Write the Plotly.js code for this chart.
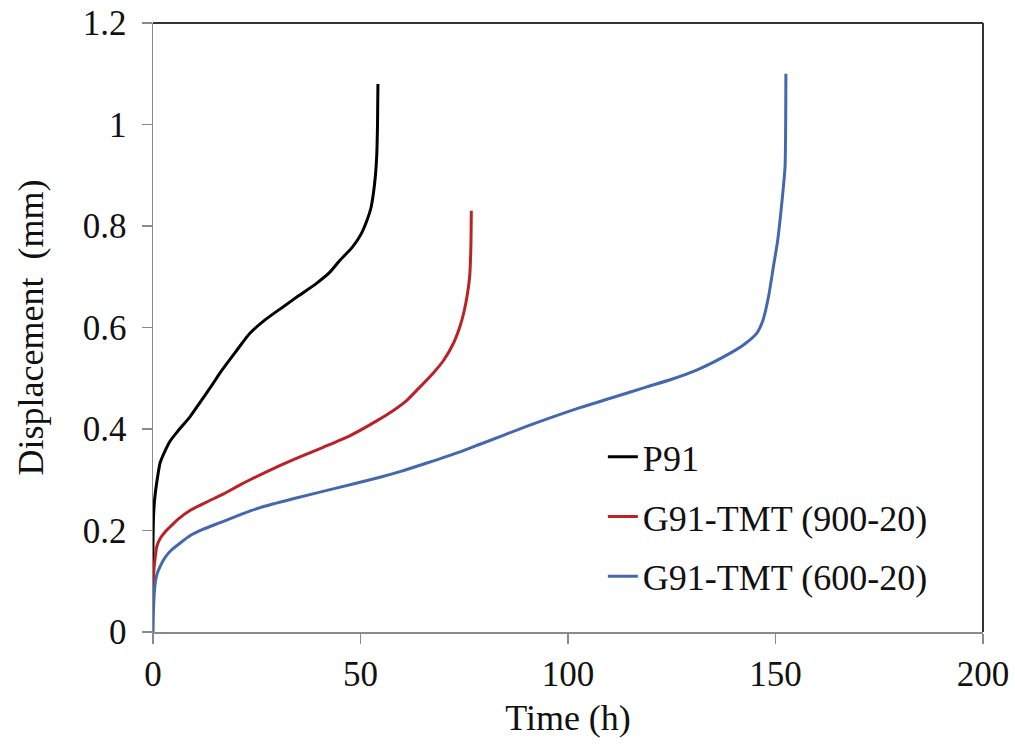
<!DOCTYPE html>
<html>
<head>
<meta charset="utf-8">
<script src="https://cdn.plot.ly/plotly-3.0.1.min.js"></script>
<style>html,body{margin:0;padding:0;background:#fff;}#chart{width:1015px;height:749px;}</style>
</head>
<body>
<div id="chart"></div>
<script>
const seriesNames = ["P91", "G91-TMT (900-20)", "G91-TMT (600-20)"];

const p91Time = [0, 0, 0.2, 0.5, 1.0, 1.7, 2.8, 4.1, 6, 8.9, 11.3, 14.5, 16.1, 20, 23.4, 27, 31.4, 35, 39.4, 42.5, 45.1, 48, 50, 51.5, 52.5, 53.1, 53.6, 53.9, 54.1, 54.2];
const p91Disp = [0.10, 0.18, 0.24, 0.27, 0.30, 0.333, 0.355, 0.376, 0.396, 0.424, 0.452, 0.49, 0.51, 0.553, 0.589, 0.615, 0.641, 0.662, 0.687, 0.708, 0.733, 0.758, 0.782, 0.81, 0.835, 0.864, 0.90, 0.937, 1.0, 1.08];

const g900Time = [0, 0.2, 0.5, 0.9, 1.8, 3, 4.1, 6, 9, 12.9, 17, 21, 23.4, 29, 35.4, 41, 47.5, 53.9, 58, 61.1, 64, 67.5, 70, 72.4, 74, 75, 75.8, 76.3, 76.6, 76.7];
const g900Disp = [0.08, 0.12, 0.145, 0.168, 0.185, 0.198, 0.207, 0.222, 0.24, 0.256, 0.272, 0.29, 0.30, 0.322, 0.345, 0.364, 0.387, 0.416, 0.437, 0.456, 0.48, 0.51, 0.535, 0.569, 0.603, 0.633, 0.668, 0.70, 0.76, 0.83];

const g600Time = [0, 0.1, 0.3, 0.6, 1.0, 1.7, 3, 4.5, 6.5, 9, 12, 16, 20, 25.8, 34, 43.4, 54.7, 59.5, 66, 74, 78.8, 90, 102.9, 110, 119, 125, 131, 139, 142.5, 145.5, 147, 148.3, 149.5, 150.5, 151.1, 151.7, 152.3, 152.5];
const g600Disp = [0, 0.04, 0.076, 0.10, 0.115, 0.129, 0.148, 0.162, 0.175, 0.19, 0.202, 0.215, 0.228, 0.245, 0.263, 0.282, 0.305, 0.316, 0.333, 0.355, 0.37, 0.405, 0.442, 0.46, 0.483, 0.498, 0.516, 0.549, 0.567, 0.589, 0.615, 0.66, 0.72, 0.77, 0.812, 0.86, 0.917, 1.10];

const xTicks = [0, 50, 100, 150, 200];
const yTicks = [0, 0.2, 0.4, 0.6, 0.8, 1, 1.2];
const yTickText = ["0", "0.2", "0.4", "0.6", "0.8", "1", "1.2"];

const colors = ["#000000", "#BA2228", "#4368AE"];
const FONT = "Liberation Serif, Times New Roman, serif";

const traces = [
  {x: p91Time, y: p91Disp, name: seriesNames[0], legendgroup: "a"},
  {x: g900Time, y: g900Disp, name: seriesNames[1], legendgroup: "b"},
  {x: g600Time, y: g600Disp, name: seriesNames[2], legendgroup: "c"}
].map((t, i) => Object.assign(t, {type: "scatter", mode: "lines", line: {color: colors[i], width: 3, shape: "spline", smoothing: 0.6}}));

const axisCommon = {
  showgrid: false, zeroline: false, showline: true, linecolor: "#8a8a8a", linewidth: 1.5,
  ticks: "outside", ticklen: 10, tickcolor: "#8a8a8a", tickwidth: 1.5,
  tickfont: {family: FONT, size: 35, color: "#111"}
};

const layout = {
  width: 1015, height: 749,
  margin: {l: 153, r: 32, t: 23, b: 117},
  paper_bgcolor: "#fff", plot_bgcolor: "#fff",
  showlegend: true,
  legend: {x: 0.542, y: 0.337, xanchor: "left", yanchor: "top", tracegroupgap: 10,
           traceorder: "grouped", font: {family: FONT, size: 36, color: "#111"},
           bgcolor: "rgba(0,0,0,0)", itemwidth: 30},
  xaxis: Object.assign({}, axisCommon, {range: [0, 200], tickvals: xTicks, ticktext: xTicks.map(String),
    title: {text: "Time (h)", font: {family: FONT, size: 36, color: "#111"}, standoff: 12}}),
  yaxis: Object.assign({}, axisCommon, {range: [0, 1.2], tickvals: yTicks, ticktext: yTickText,
    ticklabelstandoff: 8,
    title: {text: "Displacement  (mm)", font: {family: FONT, size: 36, color: "#111"}, standoff: 28}}),
  shapes: [
    {type: "line", xref: "paper", yref: "paper", x0: 0, x1: 1, y0: 1, y1: 1, line: {color: "#333", width: 2}},
    {type: "line", xref: "paper", yref: "paper", x0: 1, x1: 1, y0: 0, y1: 1, line: {color: "#333", width: 2}}
  ]
};

Plotly.newPlot("chart", traces, layout, {displayModeBar: false, staticPlot: true});
</script>
</body>
</html>
